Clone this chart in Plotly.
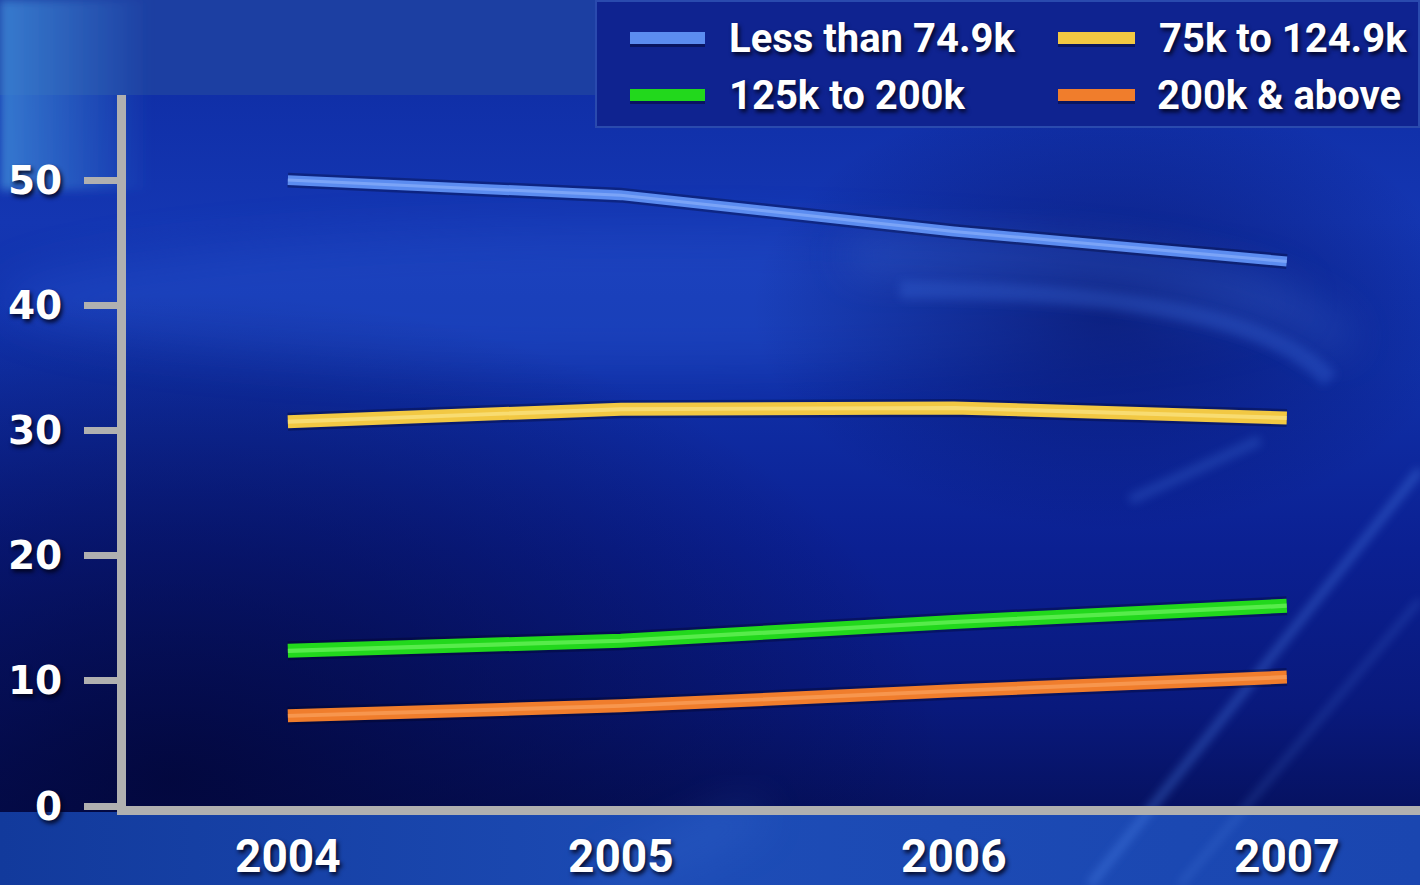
import base64
import plotly.graph_objects as go

# ---------------- data ----------------
years = [2004, 2005, 2006, 2007]
x_tick_labels = ["2004", "2005", "2006", "2007"]
y_tick_values = [0, 10, 20, 30, 40, 50]

less_than_74_9k = [50.0, 48.8, 45.9, 43.5]
from_75k_to_124_9k = [30.7, 31.7, 31.8, 31.0]
from_125k_to_200k = [12.4, 13.2, 14.7, 16.0]
from_200k_and_above = [7.2, 8.0, 9.2, 10.3]

series_names = ["Less than 74.9k", "75k to 124.9k", "125k to 200k", "200k & above"]

# ---------------- styling ----------------
W, H = 1420, 885
ML, MR, MT, MB = 126, 0, 95, 79
PW, PH = W - ML - MR, H - MT - MB

colors = ["#5b8cf0", "#f2c843", "#22d81c", "#f07d2c"]
highlights = ["#9cbcff", "#fff0a0", "#8dff7a", "#ffb070"]
widths = [10, 13, 14, 13]
series_values = [less_than_74_9k, from_75k_to_124_9k, from_125k_to_200k, from_200k_and_above]

AXIS_GRAY = "#b0b0b0"
SHADOW = "2px 3px 4px rgba(0,0,20,0.85)"
NARROW = "Roboto, 'DejaVu Sans Condensed', sans-serif"


def px_x(px):
    return (px - ML) / PW


def px_y(py):
    return 1 - (py - MT) / PH


svg = """<svg xmlns='http://www.w3.org/2000/svg' width='1420' height='885' viewBox='0 0 1420 885'>
<defs>
 <linearGradient id='base' x1='0' y1='0' x2='0' y2='1'>
  <stop offset='0' stop-color='#0d2aa0'/>
  <stop offset='0.25' stop-color='#1436b2'/>
  <stop offset='0.42' stop-color='#1030a8'/>
  <stop offset='0.62' stop-color='#0b2092'/>
  <stop offset='0.8' stop-color='#09197c'/>
  <stop offset='0.91' stop-color='#061262'/>
 </linearGradient>
 <linearGradient id='bottom' x1='0' y1='0' x2='1' y2='0'>
  <stop offset='0' stop-color='#123a9c'/>
  <stop offset='0.5' stop-color='#1d4cb6'/>
  <stop offset='1' stop-color='#1a46b0'/>
 </linearGradient>
 <radialGradient id='dark' cx='0.12' cy='0.88' r='0.55'>
  <stop offset='0' stop-color='#020638' stop-opacity='0.85'/>
  <stop offset='1' stop-color='#020638' stop-opacity='0'/>
 </radialGradient>
 <radialGradient id='darkright' cx='0.78' cy='0.35' r='0.25'>
  <stop offset='0' stop-color='#040c5a' stop-opacity='0.6'/>
  <stop offset='1' stop-color='#040c5a' stop-opacity='0'/>
 </radialGradient>
 <linearGradient id='leftglow' x1='0' y1='0' x2='1' y2='0'>
  <stop offset='0' stop-color='#3d86d6' stop-opacity='0.85'/>
  <stop offset='1' stop-color='#3d86d6' stop-opacity='0'/>
 </linearGradient>
 <filter id='blur' x='-50%' y='-50%' width='200%' height='200%'><feGaussianBlur stdDeviation='22'/></filter>
 <filter id='blur2' x='-50%' y='-50%' width='200%' height='200%'><feGaussianBlur stdDeviation='5'/></filter>
</defs>
<rect width='1420' height='885' fill='url(#base)'/>
<ellipse cx='650' cy='300' rx='650' ry='70' fill='#2b5ad6' opacity='0.35' filter='url(#blur)'/>
<rect width='1420' height='885' fill='url(#darkright)'/>
<rect width='1420' height='885' fill='url(#dark)'/>
<path d='M850,255 Q1250,250 1345,345' stroke='#4d7ee4' stroke-width='26' fill='none' opacity='0.35' filter='url(#blur)'/>
<path d='M900,290 Q1250,290 1330,380' stroke='#3f6fe0' stroke-width='18' fill='none' opacity='0.3' filter='url(#blur2)'/>
<rect x='0' y='812' width='1420' height='73' fill='url(#bottom)'/>
<path d='M1090,885 L1420,470' stroke='#4f86ec' stroke-width='7' opacity='0.45' filter='url(#blur2)'/>
<path d='M1180,885 L1420,600' stroke='#5a90f0' stroke-width='4' opacity='0.35' filter='url(#blur2)'/>
<path d='M1130,500 L1260,440' stroke='#4f86ec' stroke-width='10' opacity='0.25' filter='url(#blur2)'/>
<path d='M600,885 L760,812' stroke='#3f72d8' stroke-width='30' opacity='0.25' filter='url(#blur)'/>
<rect x='0' y='0' width='595' height='95' fill='#1c3fa2'/>
<rect x='0' y='0' width='150' height='190' fill='url(#leftglow)' filter='url(#blur2)'/>
<rect x='595' y='0' width='825' height='128' fill='#0f2390'/>
<rect x='596' y='1' width='823' height='126' fill='none' stroke='#2a4aae' stroke-width='2'/>
</svg>"""

bg_src = "data:image/svg+xml;base64," + base64.b64encode(svg.encode()).decode()

fig = go.Figure()

for name, vals, col, hl, w in zip(series_names, series_values, colors, highlights, widths):
    fig.add_trace(go.Scatter(x=years, y=vals, mode="lines", showlegend=False, hoverinfo="skip",
                             line=dict(color="rgba(0,0,25,0.3)", width=w + 5)))
    fig.add_trace(go.Scatter(x=years, y=vals, mode="lines", name=name, showlegend=False,
                             line=dict(color=col, width=w)))
    fig.add_trace(go.Scatter(x=years, y=vals, mode="lines", showlegend=False, hoverinfo="skip",
                             line=dict(color=hl, width=max(2, w * 0.3)), opacity=0.5))

# manual legend (two columns)
legend_pos = [(630, 705, 38, 727), (1058, 1135, 38, 1157), (630, 705, 95, 727), (1058, 1135, 95, 1155)]
shapes = []
annotations = []
for (x0, x1, yy, tx), name, col in zip(legend_pos, series_names, colors):
    shapes.append(dict(type="line", xref="paper", yref="paper", x0=px_x(x0), x1=px_x(x1),
                       y0=px_y(yy + 2), y1=px_y(yy + 2), line=dict(color="rgba(0,0,25,0.4)", width=14)))
    shapes.append(dict(type="line", xref="paper", yref="paper", x0=px_x(x0), x1=px_x(x1),
                       y0=px_y(yy), y1=px_y(yy), line=dict(color=col, width=12)))
    annotations.append(dict(text=name, xref="paper", yref="paper", x=px_x(tx), y=px_y(yy),
                            xanchor="left", yanchor="middle", showarrow=False,
                            font=dict(family=NARROW, size=40, color="white", weight="bold",
                                      shadow=SHADOW)))

fig.update_layout(
    width=W, height=H, autosize=False,
    margin=dict(l=ML, r=MR, t=MT, b=MB, pad=0, autoexpand=False),
    paper_bgcolor="#0a1d8a", plot_bgcolor="rgba(0,0,0,0)",
    showlegend=False,
    images=[dict(source=bg_src, xref="paper", yref="paper", x=-ML / PW, y=1 + MT / PH,
                 sizex=W / PW, sizey=H / PH, xanchor="left", yanchor="top",
                 sizing="stretch", layer="below")],
    shapes=shapes,
    annotations=annotations,
    xaxis=dict(range=[2003.514, 2007.4], tickvals=years, ticktext=x_tick_labels, automargin=False,
               showgrid=False, zeroline=False, showline=True, linecolor=AXIS_GRAY, linewidth=9,
               ticks="", ticklabelstandoff=2,
               tickfont=dict(family=NARROW, size=46, color="white", weight="bold", shadow=SHADOW)),
    yaxis=dict(range=[0, 56.8], tickvals=y_tick_values, automargin=False,
               showgrid=False, zeroline=False, showline=True, linecolor=AXIS_GRAY, linewidth=9,
               ticks="outside", ticklen=33, tickwidth=7, tickcolor=AXIS_GRAY,
               ticklabelstandoff=14,
               tickfont=dict(family="DejaVu Sans", size=39, color="white", weight="bold",
                             shadow=SHADOW)),
)

fig.write_html("out.html")
